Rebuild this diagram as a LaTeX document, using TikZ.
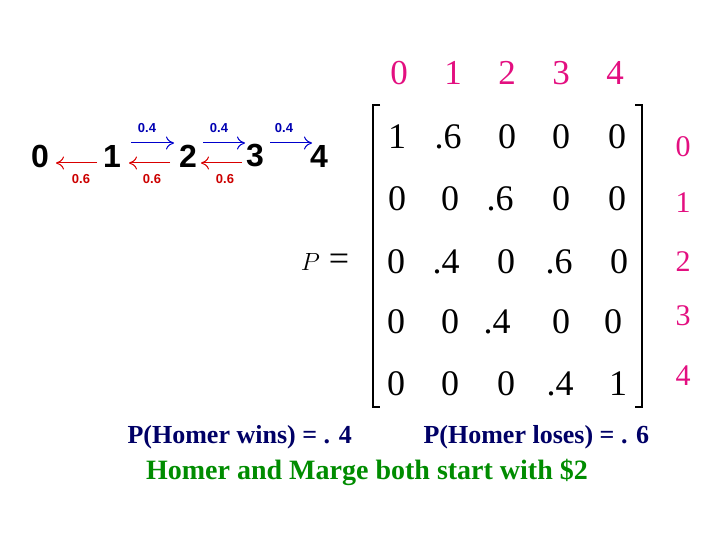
\documentclass[tikz,border=0pt]{standalone}
\usepackage{fontspec}
\setmainfont{Liberation Serif}
\newfontfamily\arialb{Liberation Sans}
\usetikzlibrary{arrows.meta}
\begin{document}
\begin{tikzpicture}[x=1pt,y=-1pt,
 st/.style={font=\arialb\bfseries\fontsize{32}{32}\selectfont},
 lb/.style={font=\arialb\bfseries\fontsize{13}{13}\selectfont},
 ent/.style={font=\fontsize{36}{36}\selectfont},
 hd/.style={font=\fontsize{35}{35}\selectfont, text=magenta!80!purple},
 fw/.style={-{To[length=8pt,width=13pt]},blue!80!black,line width=1pt},
 bw/.style={-{To[length=8pt,width=13pt]},red!85!black,line width=1pt},
 bt/.style={font=\bfseries\fontsize{26}{26}\selectfont}]
\useasboundingbox (0,0) rectangle (720,540);
\node[st] (s0) at (40,156) {0};
\node[st] (s1) at (112,156) {1};
\node[st] (s2) at (188,156) {2};
\node[st] (s3) at (255,156) {3};
\node[st] (s4) at (319,156) {4};
\coordinate (a1) at (131,143); \coordinate (b1) at (174,143);
\coordinate (a2) at (203,143); \coordinate (b2) at (245,143);
\coordinate (a3) at (270,143); \coordinate (b3) at (312,143);
\draw[fw] (a1) -- (b1); \draw[fw] (a2) -- (b2); \draw[fw] (a3) -- (b3);
\coordinate (c1) at (97,163); \coordinate (d1) at (56,163);
\coordinate (c2) at (170,163); \coordinate (d2) at (129,163);
\coordinate (c3) at (242,163); \coordinate (d3) at (201,163);
\draw[bw] (c1) -- (d1); \draw[bw] (c2) -- (d2); \draw[bw] (c3) -- (d3);
\foreach \x/\n in {147/p1,219/p2,284/p3} \node[lb,text=blue!70!black] (\n) at (\x,128) {0.4};
\foreach \x/\n in {81/q1,152/q2,225/q3} \node[lb,text=red!80!black] (\n) at (\x,179) {0.6};
\foreach \x/\t in {399/0,453/1,507/2,561/3,615/4} \node[hd] (h\t) at (\x,73) {\t};
\foreach \y/\t in {147/0,203/1,262/2,316/3,376/4} \node[hd,font=\fontsize{30}{30}\selectfont] (r\t) at (683,\y) {\t};
\node[ent] (P) at (325,262) {$P$ =};
\foreach \x/\y/\t/\n in {397/137/1/m11,448/137/.6/m12,507/137/0/m13,561/137/0/m14,617/137/0/m15,
 397/199/0/m21,450/199/0/m22,500/199/.6/m23,561/199/0/m24,617/199/0/m25,
 396/262/0/m31,446/262/.4/m32,506/262/0/m33,559/262/.6/m34,619/262/0/m35,
 396/322/0/m41,450/322/0/m42,497/322/.4/m43,561/322/0/m44,613/322/0/m45,
 396/384/0/m51,450/384/0/m52,506/384/0/m53,560/384/.4/m54,618/384/1/m55}
 \node[ent] (\n) at (\x,\y) {\t};
\draw[line width=1.5pt] (380,105) -- (373,105) -- (373,407) -- (380,407);
\draw[line width=1.5pt] (635,105) -- (642,105) -- (642,407) -- (635,407);
\node[bt,text=blue!40!black,anchor=west] (t1) at (124,437) {P(Homer wins) = . 4};
\node[bt,text=blue!40!black,anchor=west] (t2) at (420,437) {P(Homer loses) = . 6};
\node[bt,text=green!55!black,font=\bfseries\fontsize{28}{28}\selectfont] (t3) at (367,472) {Homer and Marge both start with \$2};
\end{tikzpicture}
\end{document}
